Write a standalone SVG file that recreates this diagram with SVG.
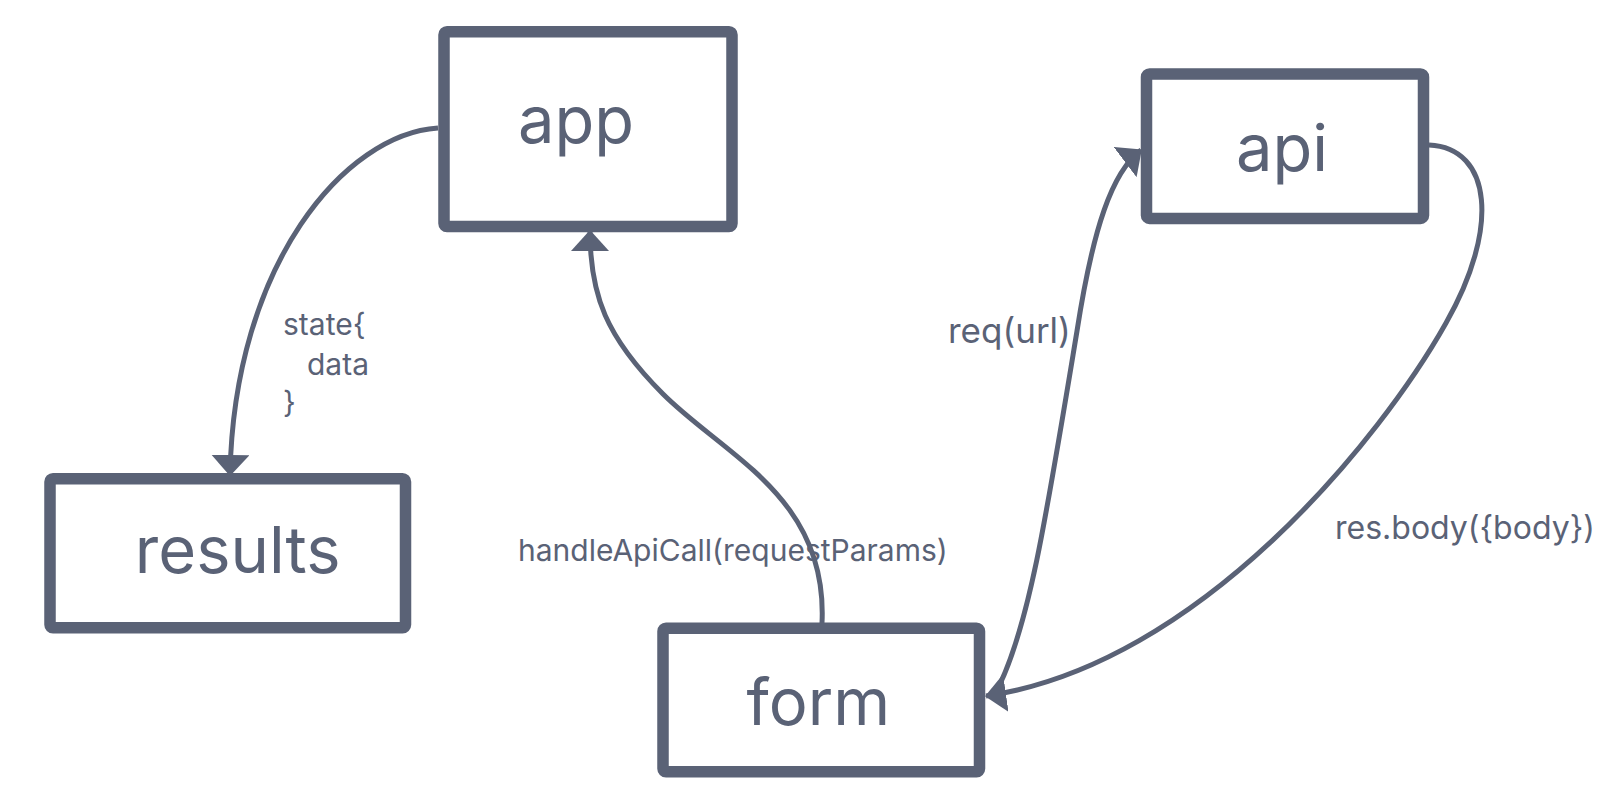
<svg xmlns="http://www.w3.org/2000/svg" width="1616" height="812" viewBox="0 0 1616 812">
<defs>
<style>
.box{fill:#fff;stroke:#5a6276;stroke-width:11.5;stroke-linejoin:round}
.edge{fill:none;stroke:#5a6276;stroke-width:5}
.nl{font-family:Inter,"Liberation Sans",sans-serif;font-size:65px;fill:#5a6276;text-anchor:middle}
.el{font-family:Inter,"Liberation Sans",sans-serif;fill:#5a6276}
</style>
<marker id="ah" markerUnits="userSpaceOnUse" markerWidth="21" markerHeight="38" viewBox="0 0 21 38" refX="20" refY="19" orient="auto">
<path d="M0,0 L21,19 L0,38 Z" fill="#5a6276"/>
</marker>
</defs>
<rect width="1616" height="812" fill="#fff"/>
<g id="connectors">
<path class="edge" d="M438,128 C345,134 234,264 230,475" marker-end="url(#ah)"/>
<path class="edge" d="M822,623 C828,497 725,456 663,394 C606,337 590,295 590,231" marker-end="url(#ah)"/>
<path class="edge" d="M1000,684 C1030,620 1046,518 1077,331 C1093,228 1112,172 1141,150" marker-end="url(#ah)"/>
<path class="edge" d="M1429,145 C1492,148 1500,228 1446,323 C1382,437 1200,665 986,696" marker-end="url(#ah)"/>
</g>
<g id="app"><rect class="box" x="444" y="31.7" width="288" height="194.8" rx="3"/><text class="nl" x="576" y="143">app</text></g>
<g id="api"><rect class="box" x="1146.5" y="74" width="277" height="144.4" rx="3"/><text class="nl" x="1282" y="170.5">api</text></g>
<g id="results"><rect class="box" x="50" y="478.7" width="355.5" height="149" rx="3"/><text class="nl" x="237.7" y="573.3">results</text></g>
<g id="form"><rect class="box" x="663" y="628.3" width="316.5" height="143.4" rx="3"/><text class="nl" x="818.3" y="725">form</text></g>
<g id="labels">
<text class="el" font-size="30" x="283" y="335">state{</text>
<text class="el" font-size="30" x="307" y="375">data</text>
<text class="el" font-size="30" x="283" y="413">}</text>
<text class="el" font-size="35" x="948" y="343">req(url)</text>
<text class="el" font-size="30" x="518" y="561">handleApiCall(requestParams)</text>
<text class="el" font-size="32" x="1335" y="539">res.body({body})</text>
</g>
</svg>
